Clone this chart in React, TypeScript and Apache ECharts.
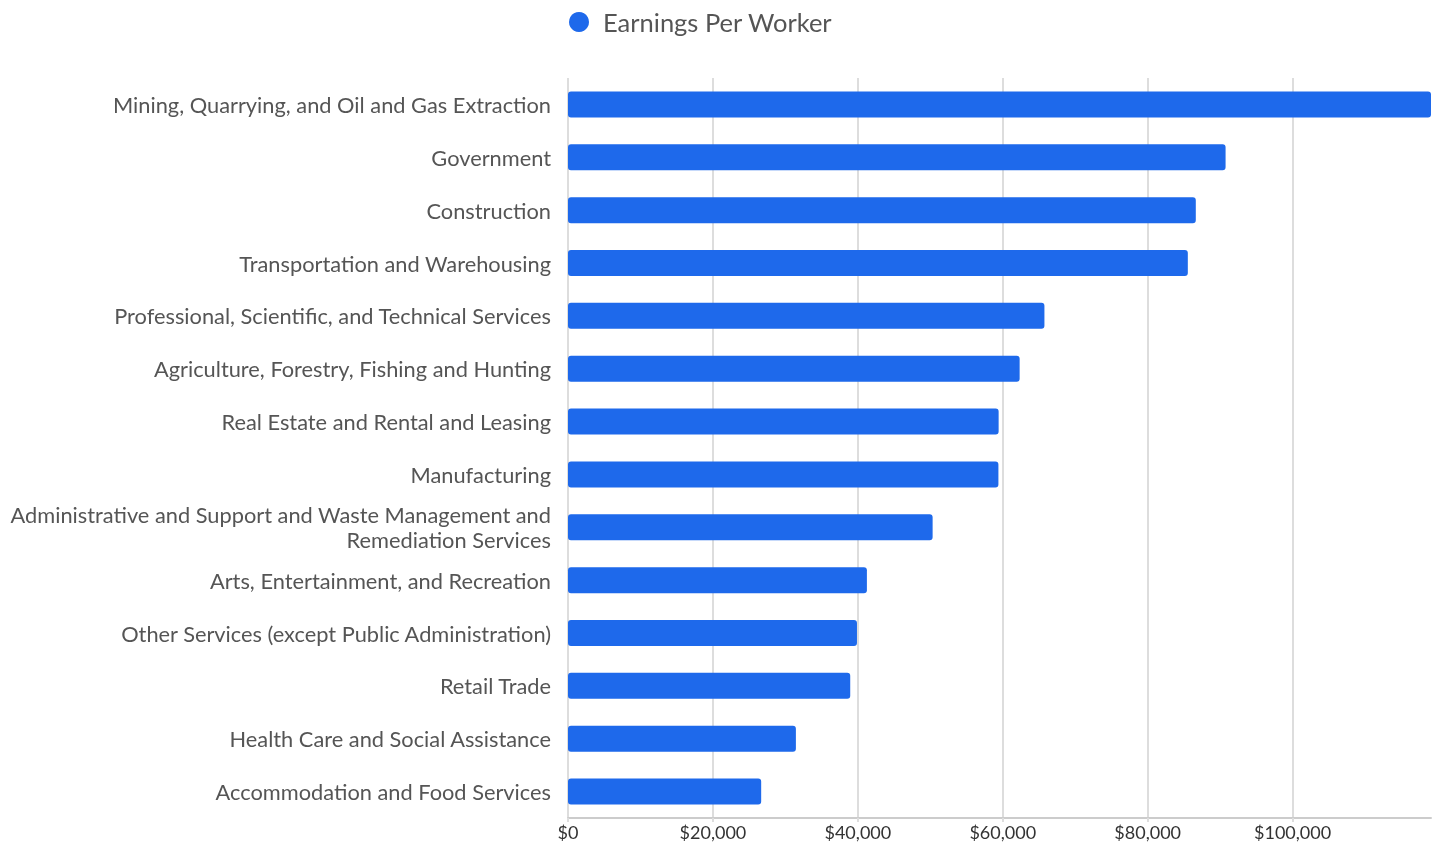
import React, { useEffect, useRef } from "react";
import * as echarts from "echarts";

const categories: string[] = [
  "Mining, Quarrying, and Oil and Gas Extraction",
  "Government",
  "Construction",
  "Transportation and Warehousing",
  "Professional, Scientific, and Technical Services",
  "Agriculture, Forestry, Fishing and Hunting",
  "Real Estate and Rental and Leasing",
  "Manufacturing",
  "Administrative and Support and Waste Management and Remediation Services",
  "Arts, Entertainment, and Recreation",
  "Other Services (except Public Administration)",
  "Retail Trade",
  "Health Care and Social Assistance",
  "Accommodation and Food Services",
];

const earningsPerWorker: number[] = [
  119100, 90750, 86640, 85540, 65750, 62330, 59430, 59400, 50320, 41250, 39880,
  38950, 31450, 26660,
];

const seriesName = "Earnings Per Worker";

export default function App() {
  const ref = useRef<HTMLDivElement>(null);
  useEffect(() => {
    if (!ref.current) return;
    const chart = echarts.init(ref.current, null, { renderer: "svg" });
    const font = "Lato, 'Noto Sans', sans-serif";
    chart.setOption({
      animation: false,
      textStyle: { fontFamily: font },
      legend: {
        show: true,
        left: 569,
        top: 9,
        padding: 0,
        icon: "circle",
        itemWidth: 20,
        itemHeight: 20,
        textStyle: {
          fontSize: 25.5,
          lineHeight: 26,
          color: "#555",
          fontFamily: font,
          padding: [0, 0, 0, 9],
        },
        data: [seriesName],
      },
      grid: { left: 568, right: 14, top: 78, bottom: 28, containLabel: false },
      xAxis: {
        type: "value",
        min: 0,
        max: "dataMax",
        interval: 20000,
        axisLine: { show: true, lineStyle: { color: "#ccc", width: 2 } },
        axisTick: { show: true, length: 4, lineStyle: { color: "#ddd", width: 2 } },
        splitLine: { show: true, showMaxLine: false, lineStyle: { color: "#ddd", width: 2 } },
        axisLabel: {
          showMaxLabel: false,
          fontSize: 18,
          color: "#333",
          margin: 5,
          fontFamily: font,
          formatter: (v: number) => "$" + v.toLocaleString("en-US"),
        },
      },
      yAxis: {
        type: "category",
        inverse: true,
        data: categories,
        axisLine: { show: false },
        axisTick: { show: false },
        axisLabel: {
          fontSize: 21.8,
          color: "#555",
          margin: 17,
          fontFamily: font,
          lineHeight: 25,
          align: "right",
          formatter: (v: string) =>
            v.length > 60 ? v.replace(" Waste Management and ", " Waste Management and\n") : v,
        },
      },
      series: [
        {
          name: seriesName,
          type: "bar",
          data: earningsPerWorker,
          barWidth: 26,
          itemStyle: { color: "#1E69EB", borderRadius: 3 },
        },
      ],
    });
    return () => chart.dispose();
  }, []);
  return (
    <div
      ref={ref}
      style={{ position: "fixed", left: 0, top: 0, width: 1445, height: 846 }}
    />
  );
}
